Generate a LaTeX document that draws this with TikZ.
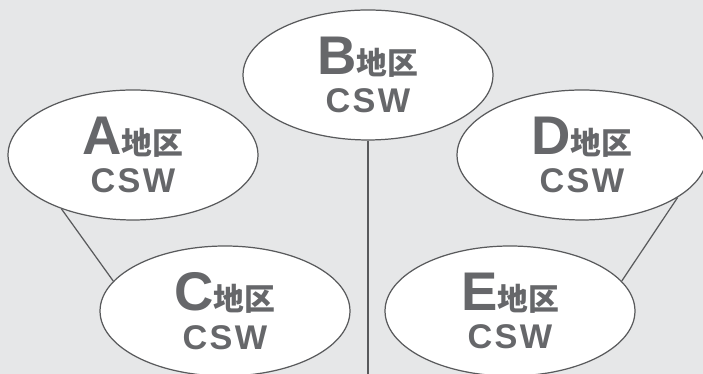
\documentclass[tikz,border=0pt]{standalone}
\usepackage{fontspec}
\setmainfont{Liberation Sans}
\newfontfamily\jpfont{Noto Sans CJK JP}
\usetikzlibrary{shapes.geometric}

\definecolor{bggray}{HTML}{E6E7E8}
\definecolor{linegray}{HTML}{595A5C}
\definecolor{textgray}{HTML}{66676A}

\tikzset{
  area/.style={ellipse, draw=linegray, line width=0.7pt, fill=white,
    minimum width=5cm, minimum height=2.6cm, inner sep=0pt, align=center,
    text=textgray, font=\bfseries\fontsize{19.5}{22}\selectfont},
  link/.style={draw=linegray, line width=0.7pt}
}
\newcommand{\areatext}[1]{{\fontsize{31}{22}\selectfont #1}{\jpfont\bfseries\fontsize{17.5}{22}\selectfont 地区}\\{\addfontfeature{LetterSpace=7}CSW}}

\begin{document}
\begin{tikzpicture}[x=0.02cm, y=0.02cm]
\fill[bggray] (0,0) rectangle (703,374);
\useasboundingbox (0,0) rectangle (703,374);
\node[area] (A) at (133,219) {\areatext{A}};
\node[area] (B) at (368,299) {\areatext{B}};
\node[area] (D) at (582,219) {\areatext{D}};
\node[area] (C) at (225,63) {\areatext{C}};
\node[area] (E) at (510,63) {\areatext{E}};
\coordinate (Bend) at (368,0);
\draw[link] (A.217) -- (C.165);
\draw[link] (D.336) -- (E.15);
\draw[link] (B.south) -- (Bend);
\end{tikzpicture}
\end{document}
